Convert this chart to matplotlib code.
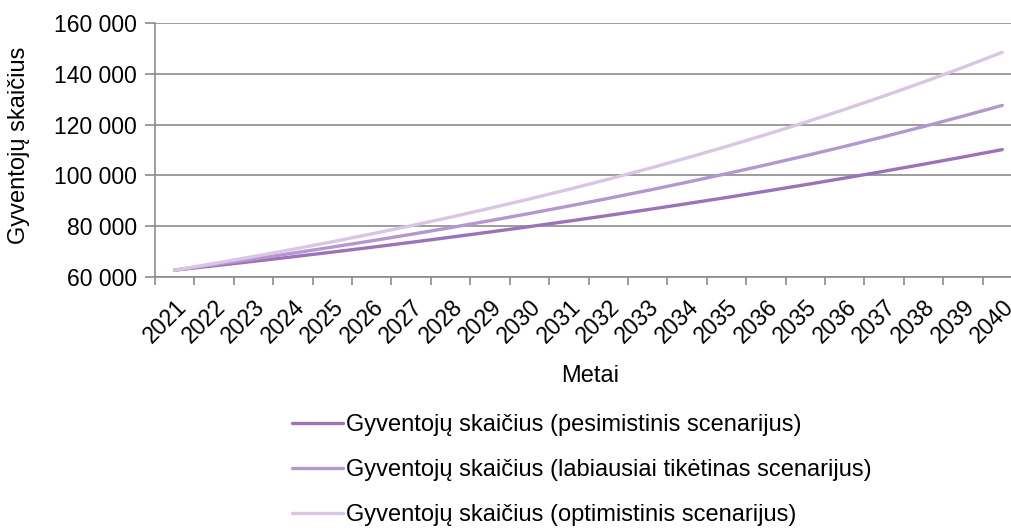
#!/usr/bin/env python3
"""
Gyventoju skaiciaus prognoze pagal tris scenarijus
"""

import matplotlib
matplotlib.use('Agg')
import matplotlib.pyplot as plt
from matplotlib.ticker import FixedLocator, FuncFormatter

# category labels exactly as in the source chart (the source repeats 2035/2036)
years = ['2021', '2022', '2023', '2024', '2025', '2026', '2027', '2028', '2029', '2030',
         '2031', '2032', '2033', '2034', '2035', '2036', '2035', '2036', '2037', '2038',
         '2039', '2040']

pessimistic = [62700, 64400, 66160, 67960, 69810, 71700, 73650, 75660, 77720, 79830,
               82000, 84230, 86520, 88880, 91290, 93780, 96330, 98950, 101640, 104400,
               107240, 110160]
likely = [62700, 64850, 67080, 69390, 71780, 74250, 76800, 79440, 82180, 85000,
          87930, 90950, 94080, 97320, 100670, 104130, 107710, 111420, 115250, 119220,
          123320, 127560]
optimistic = [62700, 65330, 68060, 70910, 73880, 76980, 80200, 83560, 87070, 90720,
              94520, 98480, 102600, 106900, 111380, 116050, 120910, 125980, 131260, 136760,
              142490, 148460]

series = [
    ('Gyventojų skaičius (pesimistinis scenarijus)', pessimistic, '#9d72b8'),
    ('Gyventojų skaičius (labiausiai tikėtinas scenarijus)', likely, '#b597d0'),
    ('Gyventojų skaičius (optimistinis scenarijus)', optimistic, '#d8c6e4'),
]

plt.rcParams['font.family'] = ['Liberation Sans', 'DejaVu Sans']

W, H = 1011, 531
fig = plt.figure(figsize=(W / 100, H / 100), dpi=100)
# plot area runs a bit past the right edge of the picture, like the source
ax = fig.add_axes([155 / W, 1 - 277 / H, (1022 - 155) / W, (277 - 23) / H])

x = list(range(len(years)))
for label, values, color in series:
    ax.plot(x, values, color=color, linewidth=2.4, label=label, solid_capstyle='round')

ax.set_xlim(-0.5, len(years) - 0.5)
ax.set_ylim(60000, 160000)

grid_color = '#8c8c8c'
ax.set_yticks(range(60000, 160001, 20000))
ax.yaxis.set_major_formatter(FuncFormatter(lambda v, p: f'{v:,.0f}'.replace(',', ' ')))
ax.grid(axis='y', color=grid_color, linewidth=1.2)
ax.set_axisbelow(True)

ax.set_xticks(x)
ax.set_xticklabels(years, rotation=45, ha='right', rotation_mode='anchor')
ax.xaxis.set_major_locator(FixedLocator(x))
ax.tick_params(axis='x', length=0, pad=13, labelsize=16.5)
# category boundary ticks
ax.set_xticks([i - 0.5 for i in range(len(years) + 1)], minor=True)
ax.tick_params(axis='x', which='minor', length=6, color=grid_color, width=1.2)
ax.tick_params(axis='y', length=7, color=grid_color, width=1.2, labelsize=16.5, pad=6)

for side in ['top', 'right']:
    ax.spines[side].set_visible(False)
for side in ['left', 'bottom']:
    ax.spines[side].set_color(grid_color)
    ax.spines[side].set_linewidth(1.2)

fig.text(590 / W, 1 - 376 / H, 'Metai', fontsize=17, ha='center', va='center')
fig.text(19 / W, 1 - 145 / H, 'Gyventojų skaičius', fontsize=17, rotation=90,
         ha='center', va='center')

fig.legend(loc='upper left', bbox_to_anchor=(292 / W, 1 - 414 / H), frameon=False,
           fontsize=17, handlelength=2.15, handletextpad=0.15, borderpad=0,
           borderaxespad=0, labelspacing=0.98)

plt.savefig('out.png', dpi=100)
plt.close()
